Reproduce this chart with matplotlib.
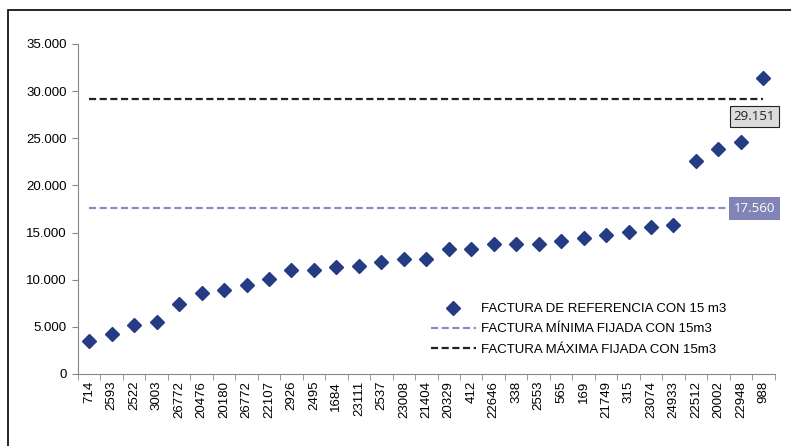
"""
Factura de referencia con 15 m3 frente a las facturas mínima y máxima fijadas.
"""
import matplotlib.pyplot as plt
from matplotlib.ticker import FuncFormatter
from matplotlib.patches import Rectangle

plt.rcParams["font.family"] = ["Liberation Sans", "DejaVu Sans"]

# codes on the x axis
codes = ["714", "2593", "2522", "3003", "26772", "20476", "20180", "26772",
         "22107", "2926", "2495", "1684", "23111", "2537", "23008", "21404",
         "20329", "412", "22646", "338", "2553", "565", "169", "21749",
         "315", "23074", "24933", "22512", "20002", "22948", "988"]

# factura de referencia (15 m3)
factura_ref = [3450, 4250, 5160, 5550, 7390, 8560, 8940, 9440,
               10040, 11070, 11070, 11310, 11420, 11880, 12160, 12160,
               13260, 13260, 13820, 13820, 13820, 14100, 14420, 14740,
               15020, 15550, 15800, 22630, 23830, 24600, 31390]

factura_min = 17560
factura_max = 29151

navy = "#253C84"
lavender = "#8A8BC2"
grey = "#868686"

fig = plt.figure(figsize=(7.91, 4.46), dpi=100)
ax = fig.add_axes([78 / 791, 1 - 374 / 446, (774.6 - 78) / 791, (374 - 44) / 446])

x = list(range(len(codes)))
ax.plot(x, factura_ref, linestyle="none", marker="D", markersize=7.5,
        color=navy, label="FACTURA DE REFERENCIA CON 15 m3")
ax.plot([x[0], x[-1]], [factura_min] * 2, color=lavender, lw=1.6,
        dashes=(3.2, 1.6), label="FACTURA MÍNIMA FIJADA CON 15m3")
ax.plot([x[0], x[-1]], [factura_max] * 2, color="#222222", lw=1.6,
        dashes=(3.2, 1.6), label="FACTURA MÁXIMA FIJADA CON 15m3")

# value labels for the reference lines
fmt = lambda v: f"{v:,.0f}".replace(",", ".")
ax.text(29.6, factura_min, fmt(factura_min), ha="center", va="center",
        fontsize=9.5, color="white", family=["Open Sans", "DejaVu Sans"],
        bbox=dict(boxstyle="square,pad=0.35", fc="#8284B6", ec="none"))
ax.text(29.6, 27300, fmt(factura_max), ha="center", va="center",
        fontsize=9.5, color="#222222", family=["Open Sans", "DejaVu Sans"],
        bbox=dict(boxstyle="square,pad=0.3", fc="#DCDCDC", ec="#222222", lw=0.8))

ax.set_xlim(-0.5, len(codes) - 0.5)
ax.set_ylim(0, 35000)
ax.set_yticks(range(0, 35001, 5000))
ax.yaxis.set_major_formatter(FuncFormatter(lambda v, p: fmt(v)))
ax.set_xticks(x)
ax.set_xticklabels(codes, rotation=90)
ax.set_xticks([i - 0.5 for i in range(len(codes) + 1)], minor=True)
ax.tick_params(axis="x", which="major", length=0, pad=5, labelsize=9.5)
ax.tick_params(axis="x", which="minor", length=4, color=grey)
ax.tick_params(axis="y", length=4, color=grey, labelsize=9.5, pad=4)
for s in ["top", "right"]:
    ax.spines[s].set_visible(False)
for s in ["left", "bottom"]:
    ax.spines[s].set_color(grey)

ax.legend(loc="upper left", bbox_to_anchor=(431 / 791, 1 - 303 / 446),
          bbox_transform=fig.transFigure, frameon=False, fontsize=9.5,
          handlelength=3.4, handletextpad=0.4, labelspacing=0.6,
          borderpad=0, borderaxespad=0)

# outer chart frame (cut at the right and bottom)
fig.patches.append(Rectangle((8 / 791, -0.1), 1.2, 1 - 10 / 446 + 0.1,
                             transform=fig.transFigure, fill=False,
                             ec="black", lw=1.2))

fig.savefig("out.png", dpi=100)
